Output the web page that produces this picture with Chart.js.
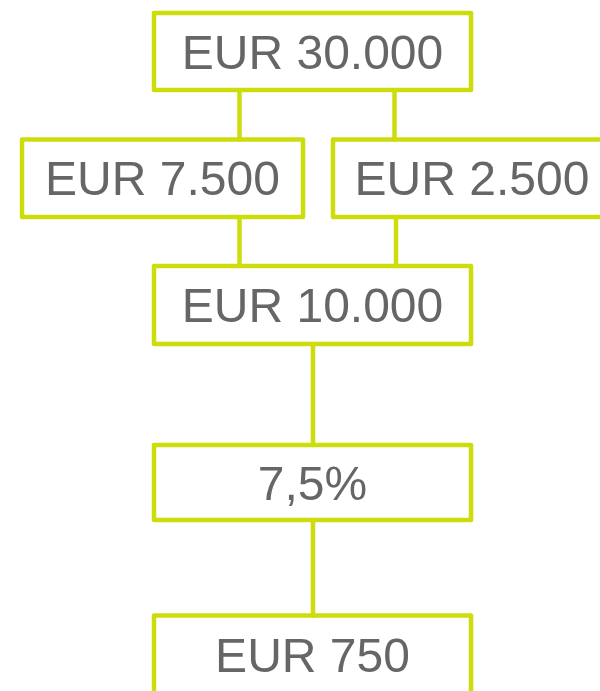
<!DOCTYPE html>
<html lang="de">
    <head>
        <title>EUR 30.000 - Berechnung</title>
        <meta charset="utf-8">
        <script src="https://cdn.jsdelivr.net/npm/chart.js@4.4.1/dist/chart.umd.min.js"></script>
        <style>
            body {
                margin: 0;
                background: #ffffff;
            }
            #wrap {
                width: 600px;
                height: 691px;
                overflow: hidden;
            }
        </style>
    </head>
    <body>
        <div id="wrap"><!-- chart wrapper -->
            <canvas id="flowChart" width="600" height="691"></canvas>
        </div>
        <script>
            // node texts and values, top to bottom
            var nodeLabels = ['EUR 30.000', 'EUR 7.500', 'EUR 2.500', 'EUR 10.000', '7,5%', 'EUR 750'];
            var nodeValues = [30000, 7500, 2500, 10000, 7.5, 750];
            // connections between nodes (from, to)
            var links = [[0, 1], [0, 2], [1, 3], [2, 3], [3, 4], [4, 5]];

            // layout of the boxes in axis units (x 0-600, y 0-691 from the top)
            var layout = [
                {x0: 154, x1: 471, y0: 13, y1: 90},
                {x0: 22, x1: 303, y0: 139.5, y1: 217},
                {x0: 333, x1: 611, y0: 139.5, y1: 217},
                {x0: 154, x1: 471, y0: 266, y1: 344},
                {x0: 154, x1: 471, y0: 445, y1: 520},
                {x0: 154, x1: 471, y0: 615.5, y1: 695}
            ];
            var linkX = [239.5, 394.5, 239.5, 396, 313, 313];

            var lime = 'rgb(205, 221, 12)';
            var textGrey = '#666666';

            var datasets = [];
            layout.forEach(function (b) {
                datasets.push({
                    data: [
                        {x: (b.x0 + b.x1) / 2, y: b.y0}, {x: b.x1, y: b.y0}, {x: b.x1, y: b.y1},
                        {x: b.x0, y: b.y1}, {x: b.x0, y: b.y0}, {x: (b.x0 + b.x1) / 2, y: b.y0}
                    ]
                });
            });
            links.forEach(function (l, i) {
                datasets.push({
                    data: [{x: linkX[i], y: layout[l[0]].y1}, {x: linkX[i], y: layout[l[1]].y0}]
                });
            });
            datasets.forEach(function (d) {
                d.type = 'line';
                d.showLine = true;
                d.borderColor = lime;
                d.borderWidth = 4.5;
                d.borderJoinStyle = 'round';
                d.pointRadius = 0;
                d.tension = 0;
                d.fill = false;
                d.clip = false;
            });

            // writes the node text in the middle of each box
            var boxText = {
                id: 'boxText',
                afterDatasetsDraw: function (chart) {
                    var ctx = chart.ctx;
                    var xs = chart.scales.x, ys = chart.scales.y;
                    ctx.save();
                    ctx.fillStyle = textGrey;
                    ctx.font = '48px "Liberation Sans", Arial, sans-serif';
                    ctx.textAlign = 'center';
                    ctx.textBaseline = 'alphabetic';
                    nodeLabels.forEach(function (txt, i) {
                        var b = layout[i];
                        var cx = xs.getPixelForValue((b.x0 + b.x1) / 2);
                        var cy = ys.getPixelForValue((b.y0 + b.y1) / 2);
                        ctx.fillText(txt, cx, cy + 17);
                    });
                    ctx.restore();
                }
            };

            var ctx = document.getElementById('flowChart').getContext('2d');
            var myChart = new Chart(ctx, {
                type: 'scatter',
                data: {datasets: datasets},
                options: {
                    responsive: false,
                    animation: false,
                    layout: {padding: 0},
                    plugins: {
                        legend: {display: false},
                        tooltip: {enabled: false}
                    },
                    scales: {
                        x: {type: 'linear', min: 0, max: 600, display: false},
                        y: {type: 'linear', min: 0, max: 691, reverse: true, display: false}
                    }
                },
                plugins: [boxText]
            });
        </script>
    </body>
</html>
